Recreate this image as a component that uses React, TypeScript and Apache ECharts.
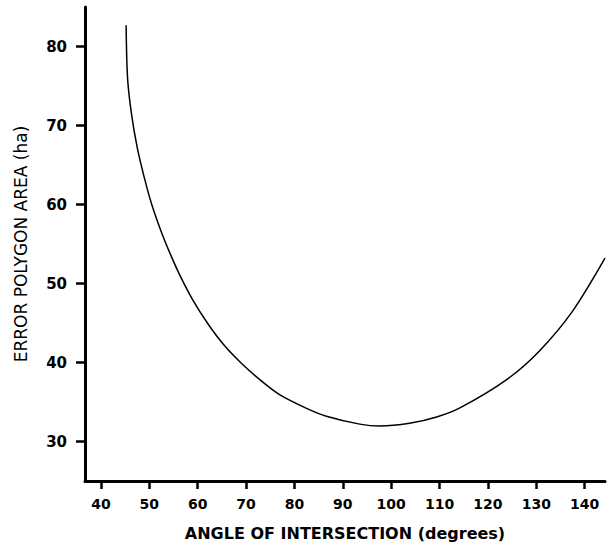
import React, { useEffect, useRef } from "react";
import * as echarts from "echarts";

const angles = [45.2, 45.5, 46.3, 47.5, 49.0, 50.5, 52.5, 54.5, 56.5, 59.0, 62.0, 65.3, 68.7, 72.9, 77.0, 82.5, 86.6, 93.5, 97.6, 103.8, 109.4, 114.2, 123.8, 130.7, 137.5, 144.2];
const errorArea = [82.7, 76.0, 71.5, 67.2, 63.3, 60.0, 56.5, 53.5, 50.8, 47.9, 45.0, 42.3, 40.1, 37.8, 35.9, 34.2, 33.2, 32.2, 31.95, 32.3, 33.1, 34.25, 37.8, 41.5, 46.5, 53.2];
const xTicks = [40, 50, 60, 70, 80, 90, 100, 110, 120, 130, 140];
const yTicks = [30, 40, 50, 60, 70, 80];
const xTitle = "ANGLE OF INTERSECTION (degrees)";
const yTitle = "ERROR POLYGON AREA (ha)";

export default function App() {
  const ref = useRef<HTMLDivElement>(null);
  useEffect(() => {
    if (!ref.current) return;
    const chart = echarts.init(ref.current, null, { renderer: "svg" });
    const data = angles.map((a, i) => [a, errorArea[i]]);
    chart.setOption({
      animation: false,
      backgroundColor: "#ffffff",
      grid: { left: 85, right: 3, top: 7, bottom: 67 },
      xAxis: {
        type: "value",
        min: 36.7,
        max: 144.2,
        name: xTitle,
        nameLocation: "middle",
        nameGap: 44,
        nameTextStyle: { color: "#000", fontFamily: "DejaVu Sans", fontWeight: "bold", fontSize: 16 },
        axisLine: { show: true, lineStyle: { color: "#000", width: 3 } },
        axisTick: { show: true, length: 8, lineStyle: { color: "#000", width: 2.5 }, customValues: xTicks },
        axisLabel: { color: "#000", fontFamily: "DejaVu Sans", fontWeight: "bold", fontSize: 14, margin: 16, customValues: xTicks },
        splitLine: { show: false },
      },
      yAxis: {
        type: "value",
        min: 25,
        max: 85,
        name: yTitle,
        nameLocation: "middle",
        nameGap: 56,
        nameTextStyle: { color: "#000", fontFamily: "DejaVu Sans", fontSize: 17 },
        axisLine: { show: true, lineStyle: { color: "#000", width: 3 } },
        axisTick: { show: true, length: 9, lineStyle: { color: "#000", width: 2.5 }, customValues: yTicks },
        axisLabel: { color: "#000", fontFamily: "DejaVu Sans", fontWeight: "bold", fontSize: 15, margin: 18, customValues: yTicks },
        splitLine: { show: false },
      },
      series: [
        {
          type: "line",
          data,
          smooth: 0.3,
          showSymbol: false,
          lineStyle: { color: "#000", width: 1.5 },
        },
      ],
    });
    return () => chart.dispose();
  }, []);
  return <div ref={ref} style={{ position: "fixed", left: 0, top: 0, width: 608, height: 548 }} />;
}
